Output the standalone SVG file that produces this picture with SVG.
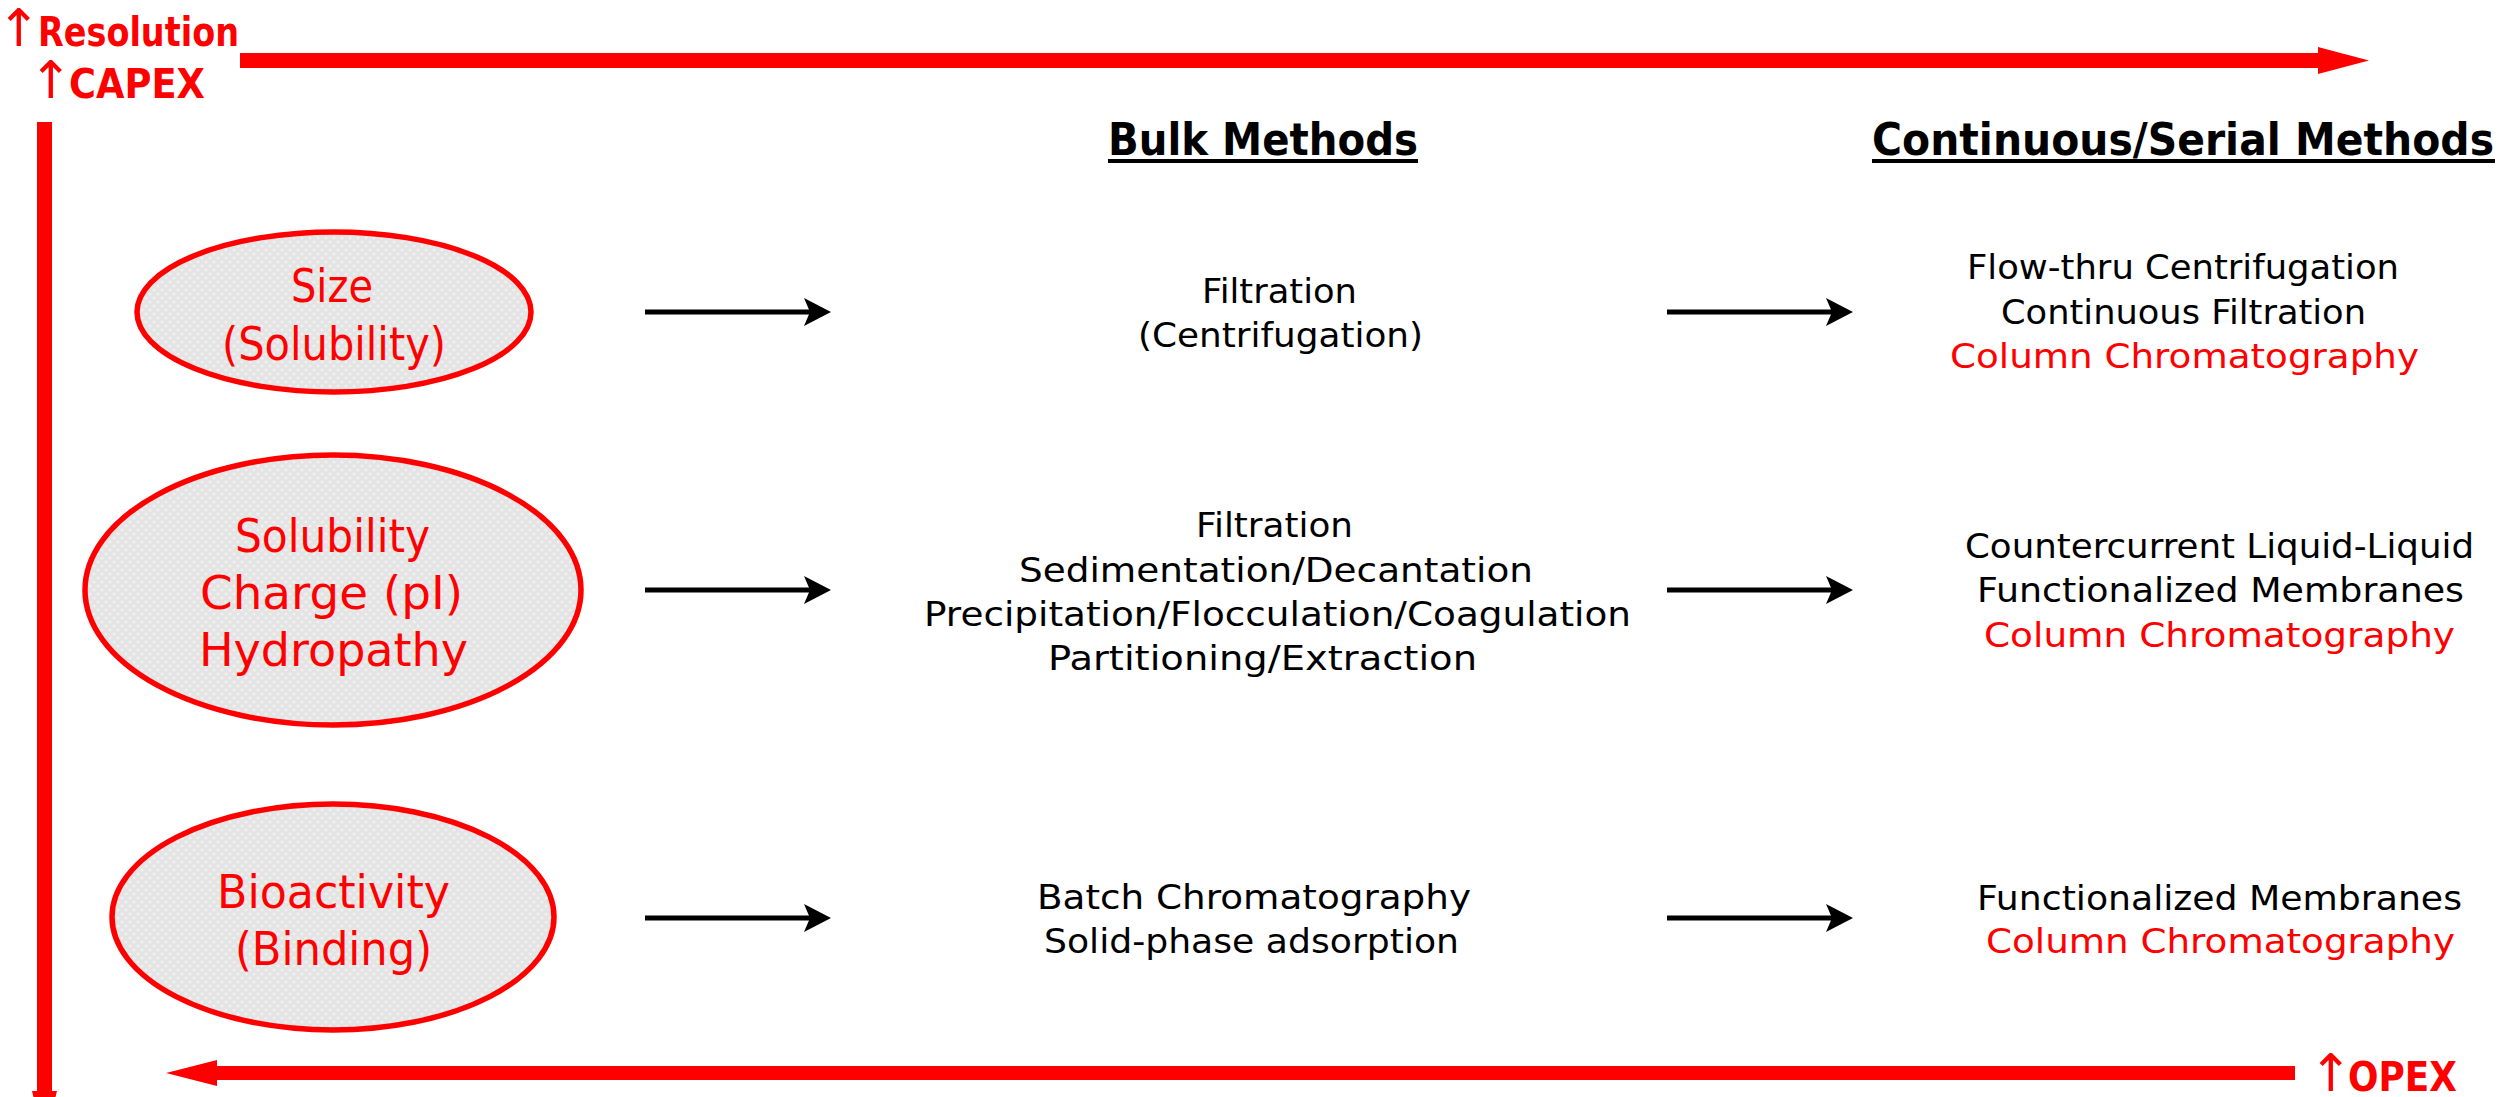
<svg xmlns="http://www.w3.org/2000/svg" width="2516" height="1097" viewBox="0 0 2516 1097">
<style>
  .lbl{font-family:"DejaVu Sans","Liberation Sans",sans-serif;font-size:34px;fill:#000}
  .red{fill:#ff0000}
  .nt{font-family:"DejaVu Sans","Liberation Sans",sans-serif;font-size:46px;fill:#ff0000}
  .hdr{font-family:"DejaVu Sans","Liberation Sans",sans-serif;font-weight:bold;font-size:45px;fill:#000}
  .axis{font-family:"DejaVu Sans","Liberation Sans",sans-serif;font-weight:bold;font-size:41px;fill:#ff0000}
  .up{font-weight:normal;font-size:52px}
  .ell{fill:url(#tex);stroke:#ff0000;stroke-width:5.5}
  .conn{stroke:#000;stroke-width:5;fill:none;marker-end:url(#ah)}
  .bar{fill:#ff0000}
</style>
<defs>
  <pattern id="tex" width="8" height="8" patternUnits="userSpaceOnUse">
    <rect width="8" height="8" fill="#e4e4e4"/>
    <circle cx="2" cy="2" r="1.6" fill="#f0f0f0"/>
    <circle cx="6" cy="6" r="1.6" fill="#f0f0f0"/>
  </pattern>
  <marker id="ah" markerUnits="userSpaceOnUse" markerWidth="28" markerHeight="28" viewBox="0 0 28 28" refX="6" refY="14" orient="auto">
    <path d="M0,0 L27,14 L0,28 L6,14 Z" fill="#000"/>
  </marker>
</defs>
<rect width="2516" height="1097" fill="#fff"/>

<g id="axes">
  <path class="bar" d="M240,53 H2318 V47 L2369,60.5 L2318,74 V68 H240 Z"/>
  <path class="bar" d="M37,122 H52 V1091 H57 L44.5,1142 L32,1091 H37 Z"/>
  <path class="bar" d="M2295,1066 V1080 H217 V1086 L166,1073 L217,1060 V1066 Z"/>
</g>

<g id="axis-labels">
  <text class="axis" y="46"><tspan class="up" x="-3">↑</tspan><tspan x="38" textLength="201" lengthAdjust="spacingAndGlyphs">Resolution</tspan></text>
  <text class="axis" y="98"><tspan class="up" x="29">↑</tspan><tspan x="69" textLength="136" lengthAdjust="spacingAndGlyphs">CAPEX</tspan></text>
  <text class="axis" y="1091"><tspan class="up" x="2309">↑</tspan><tspan x="2348" textLength="109" lengthAdjust="spacingAndGlyphs">OPEX</tspan></text>
</g>

<g id="headers">
  <text class="hdr" x="1108" y="155" textLength="310" lengthAdjust="spacingAndGlyphs">Bulk Methods</text>
  <rect x="1108" y="159" width="310" height="4" fill="#000"/>
  <text class="hdr" x="1872" y="155" textLength="622" lengthAdjust="spacingAndGlyphs">Continuous/Serial Methods</text>
  <rect x="1872" y="159" width="623" height="4" fill="#000"/>
</g>

<g id="node-size">
  <ellipse class="ell" cx="334" cy="312" rx="197" ry="80"/>
  <text class="nt" x="291" y="302" textLength="82" lengthAdjust="spacingAndGlyphs">Size</text>
  <text class="nt" x="222" y="360" textLength="224" lengthAdjust="spacingAndGlyphs">(Solubility)</text>
</g>
<g id="node-solubility">
  <ellipse class="ell" cx="333" cy="590" rx="248" ry="135"/>
  <text class="nt" x="235" y="552" textLength="195" lengthAdjust="spacingAndGlyphs">Solubility</text>
  <text class="nt" x="200" y="609" textLength="263" lengthAdjust="spacingAndGlyphs">Charge (pI)</text>
  <text class="nt" x="199" y="666" textLength="269" lengthAdjust="spacingAndGlyphs">Hydropathy</text>
</g>
<g id="node-bioactivity">
  <ellipse class="ell" cx="333" cy="917" rx="221" ry="113"/>
  <text class="nt" x="217" y="908" textLength="233" lengthAdjust="spacingAndGlyphs">Bioactivity</text>
  <text class="nt" x="235" y="965" textLength="197" lengthAdjust="spacingAndGlyphs">(Binding)</text>
</g>

<g id="bulk-1">
  <text class="lbl" x="1202" y="303" textLength="155" lengthAdjust="spacingAndGlyphs">Filtration</text>
  <text class="lbl" x="1138" y="347" textLength="285" lengthAdjust="spacingAndGlyphs">(Centrifugation)</text>
</g>
<g id="bulk-2">
  <text class="lbl" x="1196" y="537" textLength="157" lengthAdjust="spacingAndGlyphs">Filtration</text>
  <text class="lbl" x="1019" y="582" textLength="514" lengthAdjust="spacingAndGlyphs">Sedimentation/Decantation</text>
  <text class="lbl" x="924" y="626" textLength="707" lengthAdjust="spacingAndGlyphs">Precipitation/Flocculation/Coagulation</text>
  <text class="lbl" x="1048" y="670" textLength="429" lengthAdjust="spacingAndGlyphs">Partitioning/Extraction</text>
</g>
<g id="bulk-3">
  <text class="lbl" x="1037" y="909" textLength="434" lengthAdjust="spacingAndGlyphs">Batch Chromatography</text>
  <text class="lbl" x="1044" y="953" textLength="415" lengthAdjust="spacingAndGlyphs">Solid-phase adsorption</text>
</g>

<g id="continuous-1">
  <text class="lbl" x="1967" y="279" textLength="432" lengthAdjust="spacingAndGlyphs">Flow-thru Centrifugation</text>
  <text class="lbl" x="2001" y="324" textLength="365" lengthAdjust="spacingAndGlyphs">Continuous Filtration</text>
  <text class="lbl red" x="1950" y="368" textLength="469" lengthAdjust="spacingAndGlyphs">Column Chromatography</text>
</g>
<g id="continuous-2">
  <text class="lbl" x="1965" y="558" textLength="509" lengthAdjust="spacingAndGlyphs">Countercurrent Liquid-Liquid</text>
  <text class="lbl" x="1977" y="602" textLength="487" lengthAdjust="spacingAndGlyphs">Functionalized Membranes</text>
  <text class="lbl red" x="1984" y="647" textLength="471" lengthAdjust="spacingAndGlyphs">Column Chromatography</text>
</g>
<g id="continuous-3">
  <text class="lbl" x="1977" y="910" textLength="485" lengthAdjust="spacingAndGlyphs">Functionalized Membranes</text>
  <text class="lbl red" x="1986" y="953" textLength="469" lengthAdjust="spacingAndGlyphs">Column Chromatography</text>
</g>

<g id="connectors">
  <line class="conn" x1="645" y1="312" x2="810" y2="312"/>
  <line class="conn" x1="1667" y1="312" x2="1832" y2="312"/>
  <line class="conn" x1="645" y1="590" x2="810" y2="590"/>
  <line class="conn" x1="1667" y1="590" x2="1832" y2="590"/>
  <line class="conn" x1="645" y1="918" x2="810" y2="918"/>
  <line class="conn" x1="1667" y1="918" x2="1832" y2="918"/>
</g>
</svg>
